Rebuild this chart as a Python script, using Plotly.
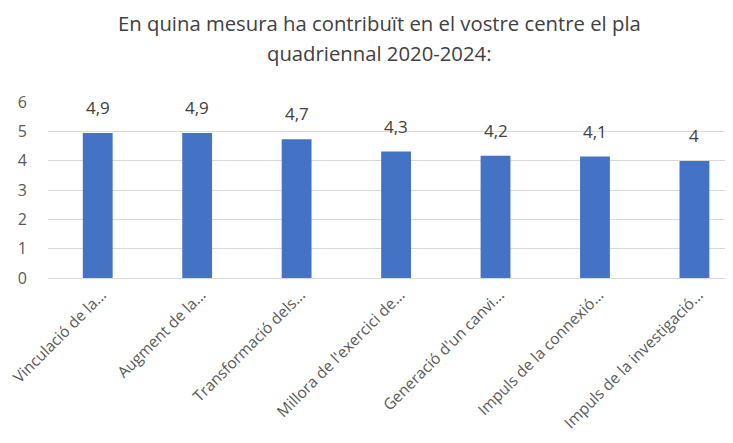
import plotly.graph_objects as go

categories = [
    "Vinculació de la...",
    "Augment de la...",
    "Transformació dels...",
    "Millora de l'exercici de...",
    "Generació d'un canvi...",
    "Impuls de la connexió...",
    "Impuls de la investigació...",
]
values = [4.94, 4.94, 4.73, 4.31, 4.17, 4.14, 3.99]
value_labels = ["4,9", "4,9", "4,7", "4,3", "4,2", "4,1", "4"]
y_ticks = [0, 1, 2, 3, 4, 5, 6]
title_lines = ["En quina mesura ha contribuït en el vostre centre el pla",
               "quadriennal 2020-2024:"]

FONT = "Open Sans"
idx = list(range(len(categories)))

# page body has an 8px default margin
OFF = 8
W, H = 733 - OFF, 443 - OFF
L, T, B = 48 - OFF, 102 - OFF, 443 - 278
plot_w = W - L
plot_h = H - T - B

fig = go.Figure()
fig.add_trace(go.Bar(
    x=idx, y=values, width=0.30,
    marker=dict(color="#4472C4", line=dict(width=0)),
    hoverinfo="skip",
))

for i, (v, t) in enumerate(zip(values, value_labels)):
    fig.add_annotation(x=i, y=v, text=t, showarrow=False, xref="x", yref="y",
                       yanchor="bottom", yshift=12,
                       font=dict(family=FONT, size=17, color="#404040"))

for j, line in enumerate(title_lines):
    px, py = 379 - OFF, 23 - OFF + 30 * j
    fig.add_annotation(x=(px - L) / plot_w, y=(H - B - py) / plot_h,
                       xref="paper", yref="paper", text=line,
                       xanchor="center", yanchor="middle",
                       showarrow=False, font=dict(family=FONT, size=20.3, color="#404040"))

fig.update_layout(
    width=W, height=H,
    margin=dict(l=L, r=0, t=T, b=B, pad=0),
    paper_bgcolor="white", plot_bgcolor="white",
    showlegend=False,
    font=dict(family=FONT, color="#595959"),
)

fig.update_xaxes(
    range=[-0.5, plot_w / 99.45 - 0.5],
    tickmode="array", tickvals=idx, ticktext=categories,
    tickangle=-45, ticks="", showgrid=False, zeroline=False,
    showline=False, automargin=False, ticklabelstandoff=4,
    ticklabelshift=4, ticklabeloverflow="allow",
    tickfont=dict(family=FONT, size=15.5, color="#595959"),
)
fig.update_yaxes(
    range=[0, 6], tickmode="array", tickvals=y_ticks,
    showgrid=True, gridcolor="#d9d9d9", gridwidth=1,
    zeroline=True, zerolinecolor="#d9d9d9", zerolinewidth=1,
    showline=False, ticks="", ticklabelstandoff=20, automargin=False,
    tickfont=dict(family=FONT, size=16, color="#595959"),
)

fig.write_html("out.html")
